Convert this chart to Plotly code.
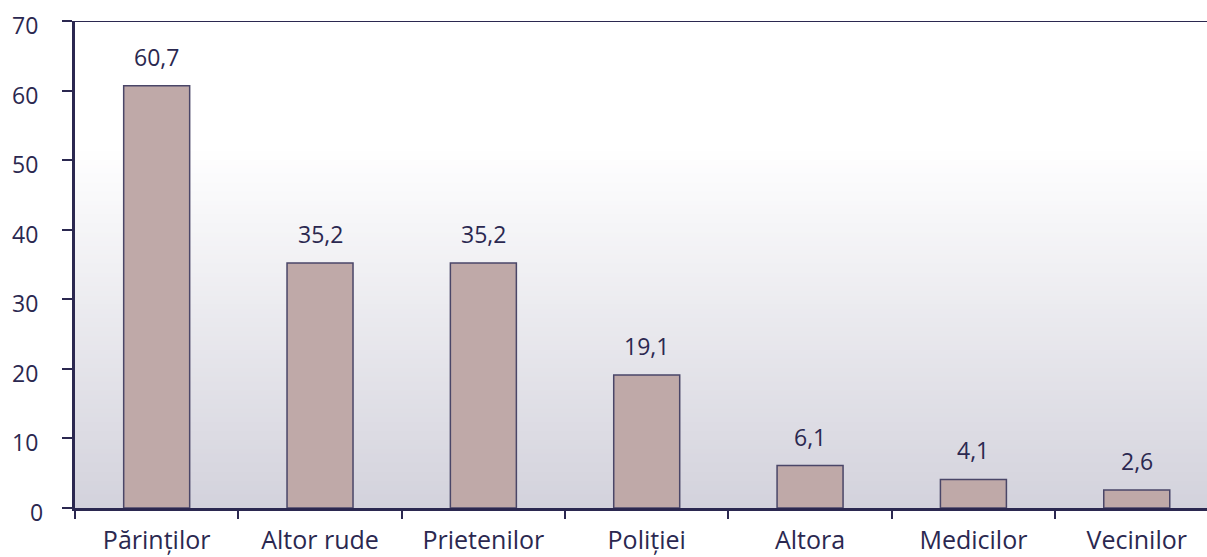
import plotly.graph_objects as go

categories = ["Părinților", "Altor rude", "Prietenilor", "Poliției", "Altora", "Medicilor", "Vecinilor"]
values = [60.7, 35.2, 35.2, 19.1, 6.1, 4.1, 2.6]
y_ticks = [0, 10, 20, 30, 40, 50, 60, 70]

INK = "#2b2850"
BAR = "#bfa9a8"
EDGE = "#4a4668"
FONT = "Open Sans"

fig = go.Figure()
fig.add_trace(go.Bar(
    x=categories, y=values, width=0.404,
    marker=dict(color=BAR, line=dict(color=EDGE, width=1.5)),
    hoverinfo="skip",
))

# gradient background (white at top -> lavender grey at bottom)
top_c = (255, 255, 255)
bot_c = (211, 210, 220)
g_top = 52.0
n = 80
shapes = []
for i in range(n):
    y0 = g_top * i / n
    y1 = g_top * (i + 1) / n + 0.3
    t = (i + 0.5) / n
    c = tuple(round(bot_c[k] + (top_c[k] - bot_c[k]) * t) for k in range(3))
    shapes.append(dict(type="rect", xref="paper", yref="y", x0=0, x1=1, y0=y0, y1=min(y1, 70),
                       fillcolor="rgb(%d,%d,%d)" % c, line=dict(width=0), layer="below"))
# top border line
shapes.append(dict(type="line", xref="paper", yref="y", x0=0, x1=1, y0=70, y1=70,
                   line=dict(color=INK, width=2), layer="above"))

annotations = []
for c, v in zip(categories, values):
    annotations.append(dict(x=c, y=v, text=("%.1f" % v).replace(".", ","), showarrow=False,
                            yanchor="middle", yshift=29,
                            font=dict(family=FONT, size=23, color=INK)))
# y tick labels (slightly lowered like the reference)
for t in y_ticks:
    annotations.append(dict(xref="paper", x=0, y=t, text=str(t), showarrow=False,
                            xanchor="right", yanchor="middle",
                            xshift=-30 if t == 0 else -35, yshift=-4,
                            font=dict(family=FONT, size=23, color=INK)))

fig.update_layout(
    width=1207, height=557,
    margin=dict(l=75, r=0, t=21, b=49),
    paper_bgcolor="white", plot_bgcolor="white",
    showlegend=False,
    shapes=shapes, annotations=annotations,
    font=dict(family=FONT, size=23, color=INK),
    xaxis=dict(range=[-0.5, 6.43], showline=True, linecolor=INK, linewidth=3,
               ticks="outside", tickson="boundaries", ticklen=8, tickwidth=2, tickcolor=INK,
               showgrid=False, zeroline=False, ticklabelstandoff=8, automargin=False,
               tickfont=dict(family=FONT, size=25, color=INK)),
    yaxis=dict(range=[0, 70], tickvals=y_ticks, showline=True, linecolor=INK, linewidth=3,
               ticks="outside", ticklen=10, tickwidth=2, tickcolor=INK,
               showgrid=False, zeroline=False, showticklabels=False, automargin=False),
)

fig.write_html("out.html", config={"displayModeBar": False},
               post_script="document.body.style.margin='0px';")
